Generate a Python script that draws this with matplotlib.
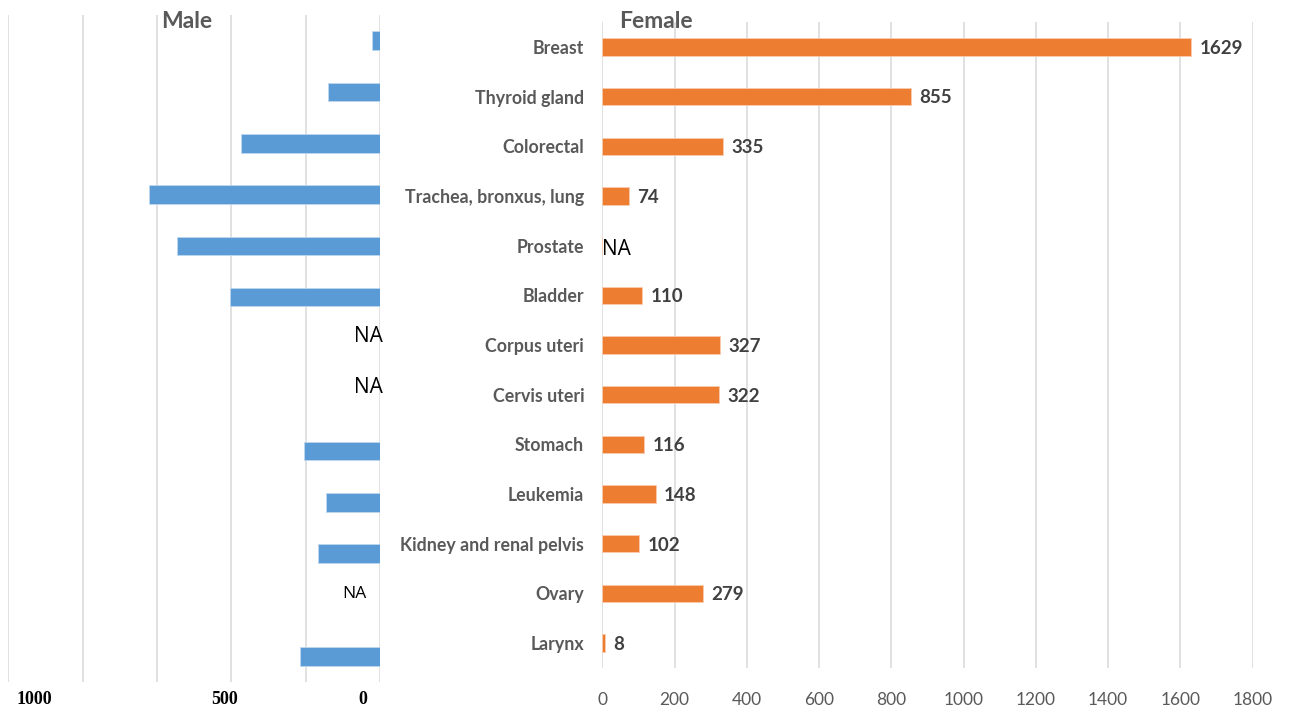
import matplotlib
matplotlib.use("Agg")
import matplotlib.pyplot as plt
import numpy as np

# data
sites = ["Breast", "Thyroid gland", "Colorectal", "Trachea, bronxus, lung",
         "Prostate", "Bladder", "Corpus uteri", "Cervis uteri", "Stomach",
         "Leukemia", "Kidney and renal pelvis", "Ovary", "Larynx"]
male = [22, 141, 375, 623, 546, 405, None, None, 205, 147, 168, None, 215]
female = [1629, 855, 335, 74, None, 110, 327, 322, 116, 148, 102, 279, 8]
female_ticks = [0, 200, 400, 600, 800, 1000, 1200, 1400, 1600, 1800]
male_tick_labels = ["1000", "500", "0"]

W, H = 1292, 709
blue = "#5B9BD5"
orange = "#ED7D31"
grid_c = "#D9D9D9"
txt = "#595959"

plt.rcParams["font.family"] = ["Lato", "DejaVu Sans"]

fig = plt.figure(figsize=(W / 100, H / 100), dpi=100)

def px_rect(x0, x1, y0, y1):
    return [x0 / W, (H - y1) / H, (x1 - x0) / W, (y1 - y0) / H]

y = np.arange(len(sites))

# male panel
axm = fig.add_axes(px_rect(8.3, 380.3, 15, 682))
mvals = [v if v is not None else 0 for v in male]
axm.barh(y, mvals, height=0.36, color=blue, edgecolor="#BDD7EE", linewidth=0.6, zorder=3)
axm.set_xlim(1000, 0)
axm.set_ylim(len(sites) - 0.5, -0.5)
axm.set_xticks(np.arange(0, 1001, 200))
axm.grid(axis="x", color=grid_c, linewidth=1.1, zorder=0)
axm.tick_params(length=0, labelbottom=False, labelleft=False)
for s in axm.spines.values():
    s.set_visible(False)
for i, v in enumerate(male):
    if v is None:
        small = sites[i] == "Ovary"
        axm.annotate("NA", (0, i), xytext=(-10 if small else 2, 8 if small else 9),
                     textcoords="offset points", ha="right", va="center",
                     fontsize=12.5 if small else 15, color="black",
                     family=["Open Sans", "DejaVu Sans"])
axm.text(0.48, 0.99, "Male", transform=axm.transAxes, ha="center", va="center",
         fontsize=16.5, fontweight="bold", color=txt)

# female panel
axf = fig.add_axes(px_rect(602.3, 1252.7, 22, 668))
fvals = [v if v is not None else 0 for v in female]
axf.barh(y, fvals, height=0.35, color=orange, edgecolor="#F8CBAD", linewidth=0.6, zorder=3)
axf.set_xlim(0, 1800)
axf.set_ylim(len(sites) - 0.5, -0.5)
axf.set_xticks(female_ticks)
axf.set_xticklabels([str(t) for t in female_ticks], fontsize=12.5, color=txt)
axf.set_yticks(y)
axf.set_yticklabels(sites, fontsize=12.8, fontweight="bold", color=txt)
axf.tick_params(length=0)
axf.tick_params(axis="x", pad=17)
axf.tick_params(axis="y", pad=13)
axf.grid(axis="x", color=grid_c, linewidth=1.1, zorder=0)
for s in axf.spines.values():
    s.set_visible(False)
for i, v in enumerate(female):
    if v is None:
        axf.annotate("NA", (0, i), xytext=(0, -3), textcoords="offset points",
                     ha="left", va="center", fontsize=15, color="black",
                     family=["Open Sans", "DejaVu Sans"])
    else:
        axf.annotate(str(v), (v, i), xytext=(6, -1), textcoords="offset points",
                     ha="left", va="center", fontsize=13.5, fontweight="bold",
                     color="#404040")
axf.text(0.083, 1.0, "Female", transform=axf.transAxes, ha="center", va="center",
         fontsize=16.5, fontweight="bold", color=txt)

# male axis labels sit where the original had them
for lab, xp in zip(male_tick_labels, [34.7, 224.5, 363]):
    fig.text(xp / W, 1 - 699 / H, lab, ha="center", va="center", fontsize=13,
             fontweight="bold", color="black", family=["Liberation Serif", "DejaVu Serif"])

fig.savefig("out.png", dpi=100)
